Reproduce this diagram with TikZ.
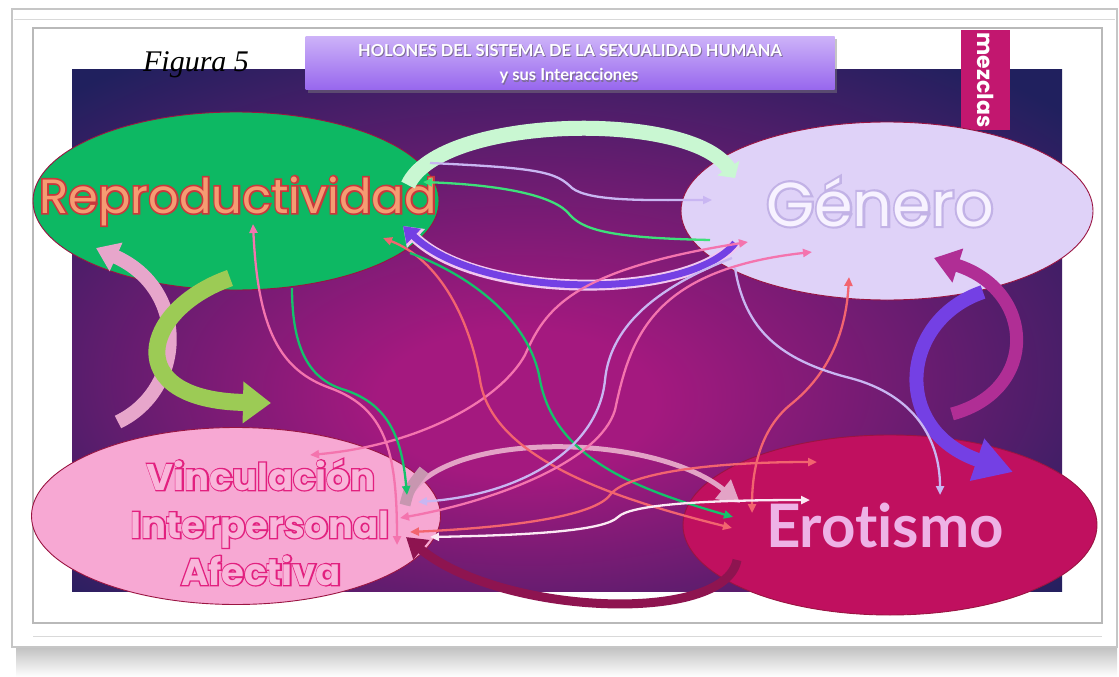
\documentclass[tikz,border=0pt]{standalone}
\usepackage{fontspec}
\usetikzlibrary{shapes.geometric,arrows.meta,shadows}

\newfontfamily\gothic{Poppins}
\newfontfamily\gothicring[FakeBold=7]{Poppins}
\newfontfamily\latofont[Ligatures=NoCommon]{Lato}
\newfontfamily\figfont{Liberation Serif}

% colours
\definecolor{panelnavy}{HTML}{20205E}
\definecolor{panelmag}{HTML}{A4197F}
\definecolor{reprogreen}{HTML}{0DB863}
\definecolor{generolila}{HTML}{DFD2F8}
\definecolor{vincpink}{HTML}{F7A8D3}
\definecolor{erotmag}{HTML}{C0105F}
\definecolor{rimred}{HTML}{9A1442}
\definecolor{reprotxt}{HTML}{F59C72}
\definecolor{reprorim}{HTML}{C8383C}
\definecolor{generotxt}{HTML}{F7F2FF}
\definecolor{generorim}{HTML}{C2B2E6}
\definecolor{vinctxt}{HTML}{F9B6DA}
\definecolor{vincrim}{HTML}{E2207F}
\definecolor{erottxt}{HTML}{EEB2E6}
\definecolor{mezclasbox}{HTML}{C2176F}
\definecolor{titletop}{HTML}{CDB2F8}
\definecolor{titlebot}{HTML}{9767EE}
\definecolor{titleshade}{HTML}{7E6C9A}
\definecolor{mint}{HTML}{C9F7D2}
\definecolor{violet}{HTML}{7440E4}
\definecolor{violetrim}{HTML}{F2C8F0}
\definecolor{olive}{HTML}{9CCB55}
\definecolor{rosebl}{HTML}{E7A6CB}
\definecolor{plum}{HTML}{B02E95}
\definecolor{maroon}{HTML}{8E1450}
\definecolor{mauve}{HTML}{E3A3C6}
\definecolor{mauvetail}{HTML}{C896B0}
\definecolor{lavline}{HTML}{C9B6F2}
\definecolor{grnline}{HTML}{3EE07A}
\definecolor{grnline2}{HTML}{14C26B}
\definecolor{pinkline}{HTML}{F474AE}
\definecolor{coralline}{HTML}{F2646F}
\definecolor{whiteline}{HTML}{FBEAF4}

\pgfdeclareradialshading{panelglow}{\pgfpoint{-3bp}{-8bp}}{%
  color(0bp)=(panelmag); color(7bp)=(panelmag); color(20bp)=(panelmag!55!panelnavy);
  color(35bp)=(panelnavy); color(50bp)=(panelnavy)}

% text with a coloured ring round it
\newcommand\ringtext[5]{% name, position, text style, ring style, text
  \path (#2) node[#4] {#5};
  \path (#2) node[#3] (#1) {#5};
}

\tikzset{
  holon/.style={ellipse, inner sep=0pt, line width=0.9pt},
  link/.style={line width=2.3pt, -{Triangle[length=9pt,width=8pt]}},
  linkboth/.style={line width=2.3pt, {Triangle[length=9pt,width=8pt]}-{Triangle[length=9pt,width=8pt]}},
  blockarrow/.style n args={3}{line width=#1, -{Triangle[length=#2,width=#3]}},
  holontext/.style={anchor=base, inner sep=0pt},
  reprofont/.style={holontext, font=\gothic\fontsize{48}{48}\selectfont, text=reprotxt},
  reproring/.style={holontext, font=\gothicring\fontsize{48}{48}\selectfont, text=reprorim},
  generofont/.style={holontext, font=\gothic\fontsize{62}{62}\selectfont, text=generotxt},
  generoring/.style={holontext, font=\gothicring\fontsize{62}{62}\selectfont, text=generorim},
  vincfont/.style={holontext, font=\gothic\bfseries\fontsize{37}{37}\selectfont, text=vinctxt},
  vincring/.style={holontext, font=\gothicring\bfseries\fontsize{37}{37}\selectfont, text=vincrim},
  titletext/.style={font=\latofont\bfseries\fontsize{16.5}{16.5}\selectfont, anchor=base, inner sep=0pt},
}

\begin{document}
\begin{tikzpicture}[x=1pt, y=-1pt]

\useasboundingbox (0,0) rectangle (1119,677);

% Paper and frame
\shade[top color=gray!60, bottom color=white] (16,640) rectangle (1117,677);
\filldraw[fill=white, draw=gray!45, line width=1.2] (12,9) rectangle (1117,647);
\draw[gray!30, line width=1] (14,20) -- (1115,20);
\draw[gray!30, line width=1] (33,636) -- (1102,636);
\draw[gray!55, line width=1.2] (33,28) rectangle (1102,623);

% Dark panel
\shade[shading=panelglow] (72,70) rectangle (1062,591);

% Title box
\path
(570,63) node[top color=titletop, bottom color=titlebot, minimum width=529pt, minimum height=53pt,
  drop shadow={opacity=0.45, shadow xshift=2pt, shadow yshift=-3pt}] (title) {};
\path
(571,58) node[titletext, text=titleshade] {HOLONES DEL SISTEMA DE LA SEXUALIDAD HUMANA}
(570,57) node[titletext, text=white] (title-a) {HOLONES DEL SISTEMA DE LA SEXUALIDAD HUMANA}
(570,82) node[titletext, text=titleshade] {y sus Interacciones}
(569,81) node[titletext, text=white] (title-b) {y sus Interacciones};

% Figure label
\path
(196,72) node[font=\figfont\itshape\fontsize{30}{30}\selectfont, anchor=base] (fig) {Figura 5};

% mezclas tab
\path
(985.5,80) node[fill=mezclasbox, rotate=-90, minimum width=100pt, minimum height=49pt, inner sep=0pt,
  text=white, font=\gothic\bfseries\fontsize{22}{22}\selectfont] (mez) {mezclas};


% Holons
\path
(236,201) node[holon, fill=reprogreen, draw=rimred, minimum width=406pt, minimum height=178pt] (repro) {}
(887,211) node[holon, fill=generolila, draw=rimred, minimum width=412pt, minimum height=178pt] (gen) {}
(236,516) node[holon, fill=vincpink, draw=rimred, minimum width=409pt, minimum height=177pt] (vinc) {}
(890,525) node[holon, fill=erotmag, draw=rimred, minimum width=414pt, minimum height=180pt] (erot) {};

\ringtext{repro-t}{238,213}{reprofont}{reproring}{Reproductividad}
\ringtext{gen-t}{880,226}{generofont}{generoring}{Género}
\ringtext{vinc-a}{261,490}{vincfont}{vincring}{Vinculación}
\ringtext{vinc-b}{260,538}{vincfont}{vincring}{Interpersonal}
\ringtext{vinc-c}{261,585}{vincfont}{vincring}{Afectiva}
\path
(885,547) node[font=\latofont\bfseries\fontsize{60}{60}\selectfont, anchor=base, inner sep=0pt,
  text=erottxt] (erot-t) {Erotismo};


% Docking points
\coordinate (rp-mint) at (408,185);
\coordinate (rp-vio) at (403,226);
\coordinate (rp-lav) at (430,163);
\coordinate (rp-grn) at (423,182);
\coordinate (rp-pink) at (253,224);
\coordinate (rp-grn2) at (292,288);
\coordinate (rp-coral) at (383,238);
\coordinate (rp-grn3) at (410,253);
\coordinate (rp-olive) at (230,278);
\coordinate (rp-rose) at (96,248);

\coordinate (ge-mint) at (735,178);
\coordinate (ge-vio) at (735,243);
\coordinate (ge-lav) at (712,200);
\coordinate (ge-grn) at (710,240);
\coordinate (ge-pink) at (748,242);
\coordinate (ge-lav2) at (732,258);
\coordinate (ge-pink2) at (812,252);
\coordinate (ge-coral) at (849,277);
\coordinate (ge-lav3) at (735,268);
\coordinate (ge-vio2) at (983,292);
\coordinate (ge-plum) at (934,258);

\coordinate (vi-pink) at (310,455);
\coordinate (vi-pink2) at (397,545);
\coordinate (vi-grn) at (407,495);
\coordinate (vi-lav) at (418,502);
\coordinate (vi-pink3) at (400,518);
\coordinate (vi-coral) at (410,532);
\coordinate (vi-white) at (430,537);
\coordinate (vi-olive) at (271,403);
\coordinate (vi-rose) at (118,422);
\coordinate (vi-maroon) at (406,537);
\coordinate (vi-mauve) at (405,505);
\coordinate (vi-mauve2) at (424,470);

\coordinate (er-coral) at (732,528);
\coordinate (er-grn) at (733,517);
\coordinate (er-coral2) at (752,513);
\coordinate (er-lav) at (940,495);
\coordinate (er-coral3) at (817,462);
\coordinate (er-white) at (810,500);
\coordinate (er-vio) at (1013,472);
\coordinate (er-plum) at (952,414);
\coordinate (er-maroon) at (737,560);
\coordinate (er-mauve) at (740,503);


% Block arrows
\draw[blockarrow={15pt}{12pt}{26pt}, mint] (rp-mint) .. controls (440,115) and (690,110) .. (ge-mint);
\draw[blockarrow={11pt}{18pt}{25pt}, violetrim] (ge-vio) .. controls (690,300) and (480,300) .. (rp-vio);
\draw[blockarrow={7pt}{15pt}{20pt}, violet] (ge-vio) .. controls (690,300) and (480,300) .. (rp-vio);

\draw[blockarrow={14pt}{22pt}{30pt}, rosebl] (vi-rose) .. controls (185,390) and (190,290) .. (rp-rose);
\draw[blockarrow={17pt}{28pt}{40pt}, olive] (rp-olive) .. controls (140,310) and (120,400) .. (vi-olive);

\draw[blockarrow={13pt}{25pt}{34pt}, plum] (er-plum) .. controls (1040,390) and (1035,290) .. (ge-plum);
\draw[blockarrow={14pt}{38pt}{42pt}, violet] (ge-vio2) .. controls (900,320) and (890,430) .. (er-vio);

\draw[blockarrow={9pt}{20pt}{24pt}, maroon] (er-maroon) .. controls (725,625) and (500,615) .. (vi-maroon);
\draw[blockarrow={5pt}{22pt}{24pt}, mauve] (vi-mauve) .. controls (430,430) and (650,430) .. (er-mauve);
\draw[line width=11pt, mauvetail] (vi-mauve) .. controls (409,489) .. (vi-mauve2);


% Thin links
\draw[link, lavline] (rp-lav) .. controls (540,168) and (556,172) .. (572,188)
  .. controls (590,202) and (650,200) .. (ge-lav);
\draw[link, grnline] (ge-grn) .. controls (620,238) and (585,232) .. (570,215)
  .. controls (555,195) and (500,185) .. (rp-grn);
\draw[linkboth, pinkline] (vi-pink) .. controls (420,445) and (500,400) .. (525,355)
  .. controls (545,310) and (570,270) .. (ge-pink);
\draw[linkboth, pinkline] (rp-pink) .. controls (258,330) and (280,370) .. (330,388)
  .. controls (385,408) and (397,450) .. (vi-pink2);
\draw[link, grnline2] (rp-grn2) .. controls (292,350) and (310,380) .. (345,390)
  .. controls (390,405) and (402,440) .. (vi-grn);
\draw[linkboth, coralline] (rp-coral) .. controls (440,260) and (470,320) .. (480,380)
  .. controls (492,460) and (620,500) .. (er-coral);
\draw[link, grnline2] (rp-grn3) .. controls (470,275) and (530,320) .. (540,380)
  .. controls (555,460) and (640,490) .. (er-grn);
\draw[link, lavline] (ge-lav2) .. controls (650,290) and (610,330) .. (605,380)
  .. controls (598,450) and (520,495) .. (vi-lav);
\draw[linkboth, pinkline] (vi-pink3) .. controls (500,500) and (600,460) .. (615,410)
  .. controls (630,340) and (650,270) .. (ge-pink2);
\draw[linkboth, coralline] (ge-coral) .. controls (845,350) and (815,385) .. (790,405)
  .. controls (760,430) and (752,470) .. (er-coral2);
\draw[link, lavline] (ge-lav3) .. controls (745,330) and (780,360) .. (850,378)
  .. controls (915,395) and (940,440) .. (er-lav);
\draw[linkboth, coralline] (vi-coral) .. controls (520,527) and (595,515) .. (610,495)
  .. controls (625,475) and (700,462) .. (er-coral3);
\draw[linkboth, whiteline] (vi-white) .. controls (540,535) and (605,530) .. (618,517)
  .. controls (630,505) and (700,500) .. (er-white);

\end{tikzpicture}
\end{document}
